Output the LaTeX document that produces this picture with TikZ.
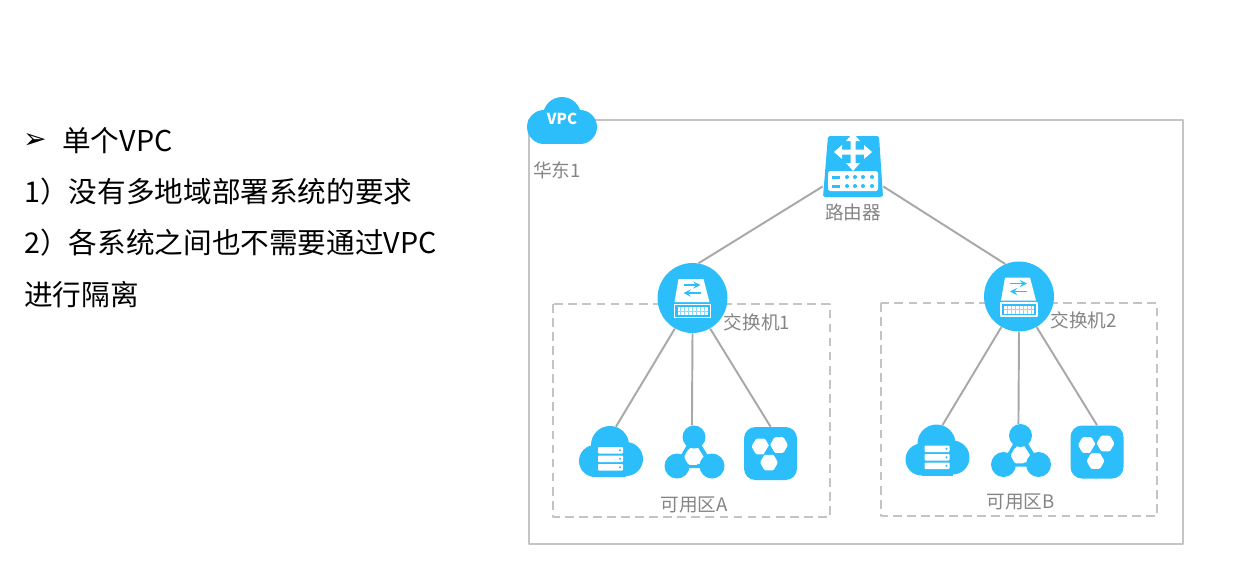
\documentclass[tikz,border=0pt]{standalone}
\usepackage{fontspec}
\setmainfont{Noto Sans CJK SC}
\newfontfamily\symfont{DejaVu Sans}
\definecolor{iconblue}{HTML}{2BBEFA}
\definecolor{linegray}{HTML}{A8A8A8}
\definecolor{boxgray}{HTML}{C4C4C4}
\definecolor{labelgray}{HTML}{858585}
\tikzset{
	bodytext/.style={anchor=west, inner sep=0pt, font=\fontsize{16.3}{18}\selectfont, text=black},
	graytext/.style={inner sep=0pt, font=\fontsize{10.6}{12}\selectfont, text=labelgray},
	link/.style={draw=linegray, line width=1.1pt},
	zonebox/.style={draw=boxgray, line width=1pt, dash pattern=on 5pt off 3pt},
	bluenode/.style={circle, fill=iconblue, inner sep=0pt},
	hexa/.pic={\fill[white, rounded corners=0.6pt] (0:9) -- (60:9) -- (120:9) -- (180:9) -- (240:9) -- (300:9) -- cycle;},
	routerpic/.pic={
		\fill[iconblue, rounded corners=1pt] (-25,-30) -- (26,-30) -- (30,31) -- (-30,31) -- cycle;
		\fill[white, rounded corners=1pt] (-25,5) rectangle (25,25);
		\foreach \a in {0,90,180,270} {
			\fill[white, shift={(0,-14)}, rotate=\a] (0,-2.5) -- (11,-2.5) -- (11,-7) -- (19,0) -- (11,7) -- (11,2.5) -- (0,2.5) -- cycle;
		}
		\foreach \y in {11,20} {
			\fill[iconblue] (-21,\y-1.5) rectangle (-13,\y+1.5);
			\foreach \x in {-6,2,10,19} \fill[iconblue] (\x,\y) circle (2);
		}
	},
	switchpic/.pic={
		\fill[white] (-14,-19) -- (11,-19) -- (17,4) -- (-18,4) -- cycle;
		\draw[iconblue, line width=0.8pt, ->, >=stealth] (-9,-13) -- (8,-13);
		\draw[iconblue, line width=0.8pt, <-, >=stealth] (-9,-5) -- (8,-5);
		\draw[white, line width=0.8pt, fill=iconblue] (-18,6.5) rectangle (18,19.5);
		\fill[white] (-15,9) rectangle (15,17);
		\foreach \x in {-12,-8,...,12} \draw[iconblue!55, line width=0.5pt] (\x,9) -- (\x,17);
		\draw[iconblue!55, line width=0.5pt] (-15,13) -- (15,13);
	},
	cloudpic/.pic={
		\fill[iconblue] (-15,16) circle (16);
		\fill[iconblue] (16,14) circle (17);
		\fill[iconblue] (-15,5) rectangle (16,32);
		\foreach \y in {2,10.5,19} {
			\fill[white, rounded corners=0.5pt] (-12,\y) rectangle (13,\y+6.5);
			\fill[iconblue] (10,\y+3.2) circle (1.2);
		}
	},
	netpic/.pic={
		\draw[iconblue, line width=2.4pt] (0,0) -- (-17,29) -- (18,29) -- cycle;
		\fill[iconblue] (-17,29) circle (12.5);
		\fill[iconblue] (18,29) circle (12.5);
		\pic at (-1,20) {hexa};
	},
	squarepic/.pic={
		\pic at (-10,-7) {hexa};
		\pic at (8.5,-8.5) {hexa};
		\pic at (-1.5,9) {hexa};
		\fill[iconblue] (-1,-9) -- (-7,1) -- (5,1) -- cycle;
	},
}
\begin{document}
\begin{tikzpicture}[x=0.02cm, y=-0.02cm, line join=round]
	\useasboundingbox (0,0) rectangle (1251,586);
	\fill[white] (0,0) rectangle (1251,586);
	% left text
	\node[anchor=center, inner sep=0pt, font=\symfont\fontsize{16}{17}\selectfont] (mark) at (35,141) {➢};
	\node[bodytext] (title) at (62,141) {单个VPC};
	\node[bodytext] (first) at (24,192) {1）没有多地域部署系统的要求};
	\node[bodytext] (second) at (24,243) {2）各系统之间也不需要通过VPC};
	\node[bodytext] (third) at (24,295) {进行隔离};
	% region
	\draw[draw=boxgray, line width=1pt] (529,120) rectangle (1183,544);
	\fill[iconblue] (562,116) circle (19) (544,127) circle (17) (580,127) circle (17);
	\fill[iconblue] (544,122) rectangle (580,144);
	\node[inner sep=0pt, text=white, font=\bfseries\fontsize{8.6}{10}\selectfont] (vpc) at (562,119) {VPC};
	\node[graytext] (east) at (557,170) {华东1};
	\draw[zonebox] (553,304) rectangle (830,517);
	\draw[zonebox] (881,303) rectangle (1157,516);
	% router
	\node[minimum width=1.2cm, minimum height=1.22cm, inner sep=0pt] (router) at (853,166) {};
	\pic at (853,166) {routerpic};
	\node[graytext] (routertext) at (853,212) {路由器};
	% zones
	\foreach \n/\k/\dx/\dy/\ty/\sy in {A/1/0/0/505/322, B/2/326.5/-1.5/502/320} {
		\node[bluenode, minimum size=1.4cm] (sw\n) at (692.5+\dx,298+\dy) {};
		\pic at (692.5+\dx,298+\dy) {switchpic};
		\node[graytext] (swtext\n) at (757+\dx,\sy) {交换机\k};
		\node[bluenode, minimum size=0.76cm] (cloud\n) at (610+\dx,445+\dy) {};
		\pic at (610+\dx,445+\dy) {cloudpic};
		\node[bluenode, minimum size=0.46cm] (net\n) at (694+\dx,437+\dy) {};
		\pic at (694+\dx,437+\dy) {netpic};
		\node[rectangle, fill=iconblue, rounded corners=6.5pt, minimum size=1.06cm, inner sep=0pt] (square\n) at (770.5+\dx,453.5+\dy) {};
		\pic at (770.5+\dx,453.5+\dy) {squarepic};
		\node[graytext] (zonetext\n) at (694+\dx,\ty) {可用区\n};
		\draw[link] (sw\n.240) -- (cloud\n.72);
		\draw[link] (sw\n.270) -- (net\n.100);
		\draw[link] (sw\n.300) -- (square\n.north);
	}
	\draw[link] (router.214) -- (swA.80);
	\draw[link] (router.326) -- (swB.113);
\end{tikzpicture}
\end{document}
